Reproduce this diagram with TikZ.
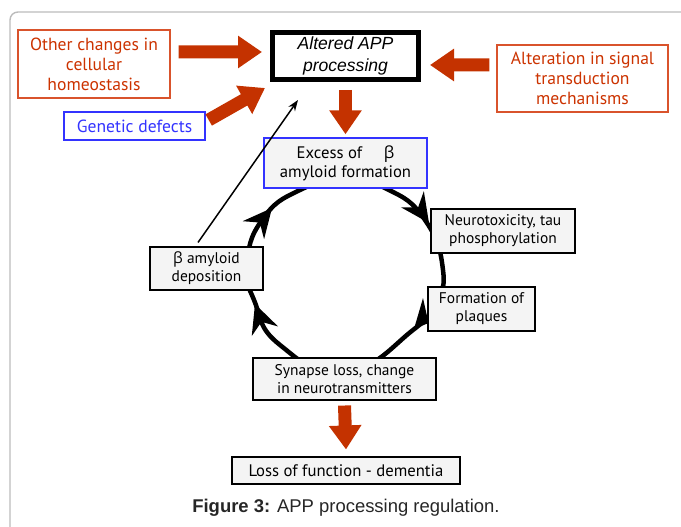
\documentclass[tikz,border=0pt]{standalone}
\usepackage{fontspec}
\setmainfont{PT Sans}
\newfontfamily\grkfont{Open Sans}
\newfontfamily\arialfont{Liberation Sans}
\usetikzlibrary{arrows.meta,positioning}
\definecolor{redtxt}{HTML}{CC3300}
\definecolor{redline}{HTML}{D9532C}
\definecolor{bluetxt}{HTML}{3333FF}
\definecolor{fatred}{HTML}{C43200}
\definecolor{boxgray}{HTML}{F4F4F4}
\definecolor{framegray}{HTML}{BBBBBB}

\begin{document}
\begin{tikzpicture}[
  redbox/.style={draw=redline,thick,fill=white,text=redtxt,align=center,inner sep=0pt,font=\fontsize{10}{11.3}\selectfont},
  graybox/.style={draw=black,fill=boxgray,semithick,align=center,inner sep=0pt,font=\fontsize{8.8}{10.2}\selectfont},
  fat/.style={fatred,line width=0.26cm,-{Triangle[width=0.62cm,length=0.48cm]}},
  cyc/.style={line width=0.09cm},
  thinarrow/.style={line width=0.85pt,-{Stealth[length=0.22cm,width=0.16cm]}}]
\useasboundingbox (0,0) rectangle (13.62,10.54);
% \draw[help lines] (0,0) grid (13,10);
\draw[framegray,line width=0.8pt,rounded corners=0.16cm] (0.2,-0.5) -- (0.2,10.3) -- (14,10.3);
%
\draw[cyc] plot[smooth cycle,tension=0.85] coordinates {(6.90,6.94) (7.74,6.76) (8.50,6.14) (8.86,5.14) (8.70,4.50) (8.26,3.94) (6.90,3.10) (5.60,3.64) (5.08,4.54) (4.94,5.24) (5.24,6.14) (6.00,6.74)};
% heads on the cycle, clockwise
\foreach \p/\a in {{(8.58,6.08)}/-55,{(8.28,3.96)}/228,{(5.10,4.46)}/110,{(5.44,6.38)}/50}
  \fill[shift={\p},rotate=\a] (0,0) -- (-0.58,0.28) -- (-0.38,0) -- (-0.58,-0.28) -- cycle;
%
\node (other) [redbox,minimum width=3.04cm,minimum height=1.36cm] at (1.88,9.26) {Other changes in\\cellular\\homeostasis};
\node (altered) [draw=black,line width=0.1cm,fill=white,align=center,inner sep=0pt,minimum width=2.92cm,minimum height=0.94cm,font=\arialfont\itshape\fontsize{10}{12.5}\selectfont] at (6.91,9.42) {Altered APP\\processing};
\node (alteration) [redbox,minimum width=3.42cm,minimum height=1.34cm] at (11.65,8.97) {Alteration in signal\\transduction\\mechanisms};
\node (genetic) [redbox,draw=bluetxt,text=bluetxt,minimum width=2.82cm,minimum height=0.56cm] at (2.69,8.02) {Genetic defects};
\node (excess) [graybox,draw=bluetxt,thick,minimum width=3.26cm,minimum height=1.0cm,font=\fontsize{9.5}{10.8}\selectfont] at (6.91,7.28) {Excess of\hspace{1.3em}{\grkfont β}\\amyloid formation};
\node (neuro) [graybox,minimum width=2.88cm,minimum height=0.88cm] at (10.06,5.92) {Neurotoxicity, tau\\phosphorylation};
\node (deposition) [graybox,minimum width=2.26cm,minimum height=0.86cm] at (4.13,5.17) {{\grkfont β} amyloid\\deposition};
\node (plaques) [graybox,minimum width=2.14cm,minimum height=0.88cm] at (9.63,4.36) {Formation of\\plaques};
\node (synapse) [graybox,minimum width=3.66cm,minimum height=0.84cm] at (6.89,2.96) {Synapse loss, change\\in neurotransmitters};
\node (loss) [graybox,minimum width=4.56cm,minimum height=0.54cm,font=\fontsize{9.5}{10.8}\selectfont] at (6.92,1.13) {Loss of function - dementia};
\node (caption) [font=\arialfont\fontsize{10.5}{12}\selectfont,text=black!85] at (6.92,0.38) {\textbf{Figure 3:} APP processing regulation.};
%
\draw[fat] ([shift={(0.16,0.24)}]other.east) -- ([shift={(-0.16,0.08)}]altered.west);
\draw[fat] ([shift={(-0.14,0.27)}]alteration.west) -- ([shift={(0.18,-0.18)}]altered.east);
\draw[fat] ([shift={(0.06,0.12)}]genetic.east) -- ([shift={(-0.10,-0.12)}]altered.south west);
\draw[fat] ([yshift=-0.16cm]altered.south) -- ([yshift=0.06cm]excess.north);
\draw[fat] ([yshift=-0.1cm]synapse.south) -- ([yshift=0.14cm]loss.north);
\draw[thinarrow] ([shift={(-0.17,0.08)}]deposition.north) -- ([shift={(-0.95,-0.36)}]altered.south);
\end{tikzpicture}
\end{document}
